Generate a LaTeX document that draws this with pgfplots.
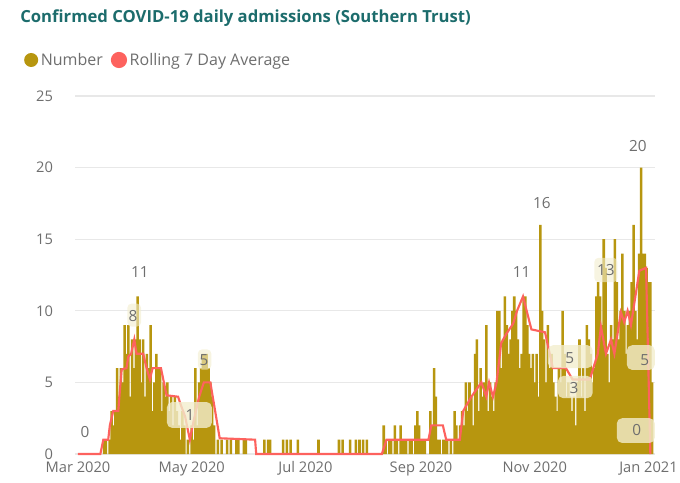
\documentclass[border=0pt]{standalone}
\usepackage{pgfplots}
\pgfplotsset{compat=1.18}
\usepackage{fontspec}
\setmainfont{Open Sans}
\definecolor{bargold}{RGB}{183,150,15}
\definecolor{avgred}{RGB}{253,98,94}
\definecolor{titleteal}{RGB}{28,108,108}
\definecolor{txtgrey}{RGB}{110,110,110}
\definecolor{gridgrey}{RGB}{232,232,232}
\definecolor{boxfill}{RGB}{242,237,205}
\begin{document}
\begin{tikzpicture}
\useasboundingbox (0pt,0pt) rectangle (510pt,361.5pt);
\node[anchor=west, text=titleteal, font=\bfseries\fontsize{12.5}{14}\selectfont, inner sep=0] at (15pt,348pt) {Confirmed COVID-19 daily admissions (Southern Trust)};
\begin{axis}[at={(56.25pt,21pt)}, anchor=south west, scale only axis,
  width=435pt, height=268.5pt,
  xmin=-1.6, xmax=309.5, ymin=0, ymax=25,
  axis line style={draw=none}, major tick length=0pt,
  ytick={0,5,10,15,20,25}, ymajorgrids, grid style={gridgrey, line width=0.8pt},
  xtick={0,61,122,184,245,306},
  xticklabels={Mar 2020,May 2020,Jul 2020,Sep 2020,Nov 2020,Jan 2021},
  tick label style={text=txtgrey, font=\fontsize{11}{13}\selectfont},
  /pgf/number format/assume math mode=true,
  yticklabel style={xshift=-13pt},
  xticklabel style={yshift=-2pt},
  clip=false,
  legend style={at={(-0.095,1.1006)}, anchor=west, draw=none, fill=none,
    font=\fontsize{12}{14}\selectfont, text=txtgrey,
    /tikz/every even column/.append style={column sep=4pt}},
  legend columns=2, legend cell align=left,
]
\addplot[ybar, bar width=1.35, bar shift=0pt, fill=bargold, draw=none,
  legend image code/.code={\fill[bargold] (0pt,0pt) circle (5.25pt);}] table {
x y
14 1
15 1
17 1
18 3
19 2
20 3
21 6
22 4
23 6
24 5
25 9
26 7
27 9
28 4
29 8
30 6
31 8
32 11
33 8
34 5
35 8
36 4
37 7
38 6
39 9
40 3
41 5
42 7
43 6
44 6
45 3
46 5
47 4
48 5
49 3
50 4
51 2
52 4
53 3
54 2
55 1
56 3
57 2
59 1
61 2
62 1
63 6
64 2
65 5
66 6
67 7
68 7
69 7
70 6
71 5
72 4
73 2
75 1
77 1
80 1
82 1
85 1
86 1
89 1
90 1
100 1
102 1
103 1
110 1
112 1
114 1
118 1
129 1
140 1
142 1
146 1
149 1
151 1
153 1
155 1
164 2
165 1
167 1
168 1
170 2
171 1
173 2
174 1
175 1
176 1
178 1
179 1
181 2
182 3
183 2
184 1
185 1
186 1
189 3
190 2
191 6
192 4
193 1
194 1
196 1
197 1
198 1
200 1
202 3
203 2
204 1
205 2
206 3
207 2
208 5
209 3
210 5
211 4
212 2
213 7
214 8
215 3
216 6
217 4
218 5
219 9
220 3
221 5
222 4
223 3
224 5
225 10
226 10
227 6
228 8
229 11
230 9
231 7
232 8
233 10
234 11
235 10
236 8
237 6
238 7
239 11
240 11
241 9
242 7
243 6
244 7
245 5
246 7
247 4
248 16
249 10
250 8
251 5
252 9
253 6
254 7
255 5
256 4
257 3
258 6
259 5
260 10
261 7
262 4
263 5
264 4
265 3
266 4
267 2
268 5
269 8
270 4
271 6
272 3
273 9
274 8
275 7
276 5
277 6
278 11
279 12
280 11
281 9
282 15
283 13
284 7
285 5
286 9
287 8
288 15
289 12
290 8
291 10
292 14
293 10
294 7
295 9
296 10
297 12
298 16
299 10
300 8
301 14
302 20
303 14
304 14
305 13
306 12
307 12
308 5
};
\addlegendentry{Number}
\addplot[avgred, line width=1.6pt, mark=none,
  legend image code/.code={\fill[avgred] (0pt,0pt) circle (5.25pt);}] table {
x y
0 0
12 0
13.6 1
16.2 1
17.1 2
18.9 3
21.6 3
23.4 5.9
26 6
27 6.8
28.5 7
30.2 8
31.4 7
35 7
36.8 6
38.6 5.2
40 6
44.5 6
47.5 4.1
53.7 4
55.5 3.3
57.5 2.6
60 1
62 2.3
65 4
67.5 5
71 5
76 1.1
95 1
95.6 0
163 0
165.5 1
188 1
189.5 2
195.7 2
197.5 1
204.8 1
206.6 3
211 4
216.4 5
219 4
220.5 5
222.6 4
224.5 5
227 7.75
229.8 8.4
233.4 9.1
235.5 10
238.7 11
243.2 8.7
250.5 8.5
254.7 6
261.7 6
265.3 5.2
274.5 5.2
278.8 7
280.5 8.9
283.2 7
285.9 8
287.7 7
291.2 9.9
293 9.2
294.8 10
296.6 9
301.1 12.8
304.7 13
307 0
};
\addlegendentry{Rolling 7 Day Average}
% label boxes
\fill[boxfill, opacity=0.8, rounded corners=4pt] (axis cs:47.7,1.82) rectangle (axis cs:71.8,3.63);
\fill[boxfill, opacity=0.8, rounded corners=4pt] (axis cs:252,6.0) rectangle (axis cs:276.1,7.6);
\fill[boxfill, opacity=0.8, rounded corners=4pt] (axis cs:257.4,3.9) rectangle (axis cs:276.1,5.45);
\fill[boxfill, opacity=0.8, rounded corners=4pt] (axis cs:294.4,5.87) rectangle (axis cs:309.4,7.6);
\fill[boxfill, opacity=0.8, rounded corners=4pt] (axis cs:289,0.77) rectangle (axis cs:309.4,2.5);
\fill[boxfill, opacity=0.6, rounded corners=3pt] (axis cs:26.5,8.9) rectangle (axis cs:33.8,10.5);
\fill[boxfill, opacity=0.6, rounded corners=3pt] (axis cs:64.3,5.9) rectangle (axis cs:71.5,7.3);
\fill[boxfill, opacity=0.6, rounded corners=3pt] (axis cs:277,12.0) rectangle (axis cs:289.3,13.7);
% labels
\tikzset{dlab/.style={text=txtgrey, font=\fontsize{11.5}{13}\selectfont, inner sep=0pt}}
\node[dlab] at (axis cs:3.75,1.54) {0};
\node[dlab] at (axis cs:33.2,12.7) {11};
\node[dlab] at (axis cs:29.5,9.64) {8};
\node[dlab] at (axis cs:60.1,2.72) {1};
\node[dlab] at (axis cs:67.6,6.56) {5};
\node[dlab] at (axis cs:238,12.7) {11};
\node[dlab] at (axis cs:248.8,17.5) {16};
\node[dlab] at (axis cs:263.8,6.7) {5};
\node[dlab] at (axis cs:266,4.6) {3};
\node[dlab] at (axis cs:283.1,12.85) {13};
\node[dlab] at (axis cs:300.3,21.5) {20};
\node[dlab] at (axis cs:304,6.56) {5};
\node[dlab] at (axis cs:299.7,1.68) {0};
\end{axis}
\end{tikzpicture}
\end{document}
